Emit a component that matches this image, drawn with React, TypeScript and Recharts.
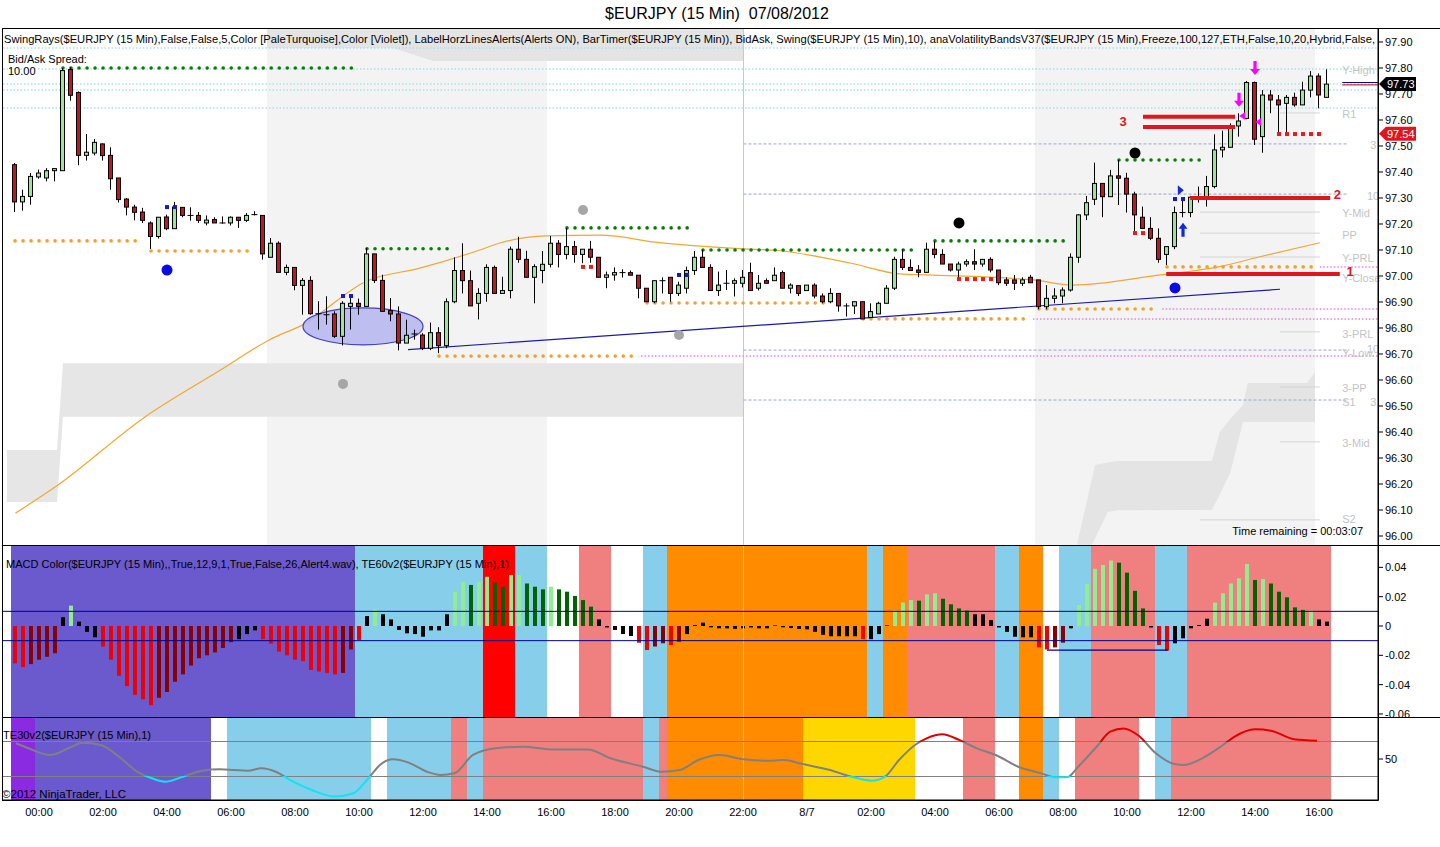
import React from 'react';
import {
  ComposedChart, Bar, Line, Area, XAxis, YAxis,
  ReferenceLine, ReferenceArea, ReferenceDot, Cell,
} from 'recharts';

const FONT = '"Liberation Sans", Arial, Helvetica, sans-serif';

// ---------------- 15-minute candles (bar index 0..164) ----------------
const opens = [
  97.428, 97.285, 97.306, 97.381, 97.377, 97.405, 97.405, 97.794, 97.706, 97.464,
  97.473, 97.508, 97.464, 97.377, 97.296, 97.265, 97.246, 97.204, 97.152, 97.227,
  97.182, 97.264, 97.233, 97.233, 97.204, 97.217, 97.204, 97.204, 97.226, 97.214,
  97.236, 97.233, 97.072, 97.126, 97.014, 97.033, 96.964, 96.983, 96.855, 96.851,
  96.854, 96.768, 96.883, 96.895, 96.883, 97.085, 96.983, 96.867, 96.854, 96.742,
  96.777, 96.773, 96.722, 96.782, 96.732, 96.901, 97.021, 96.982, 96.895, 96.933,
  97.033, 96.933, 96.944, 97.103, 97.064, 96.995, 97.021, 97.045, 97.126, 97.083,
  97.113, 97.083, 97.103, 97.072, 96.995, 97.004, 97.013, 97.013, 97.003, 96.953,
  96.901, 96.982, 96.995, 96.933, 96.953, 97.021, 97.072, 97.033, 96.944, 96.972,
  96.972, 96.972, 97.013, 96.953, 96.982, 96.982, 97.013, 96.953, 96.963, 96.944,
  96.965, 96.923, 96.901, 96.933, 96.885, 96.885, 96.901, 96.840, 96.854, 96.895,
  96.953, 97.064, 97.033, 97.023, 97.014, 97.103, 97.083, 97.046, 97.023, 97.046,
  97.055, 97.046, 97.064, 97.023, 96.985, 96.985, 96.972, 96.995, 96.985, 96.882,
  96.914, 96.923, 96.946, 97.072, 97.235, 97.295, 97.356, 97.305, 97.385, 97.376,
  97.315, 97.226, 97.183, 97.145, 97.083, 97.113, 97.244, 97.244, 97.305, 97.305,
  97.344, 97.485, 97.495, 97.577, 97.606, 97.744, 97.536, 97.696, 97.677, 97.664,
  97.687, 97.658, 97.715, 97.769, 97.687,
];
const highs = [
  97.435, 97.332, 97.396, 97.409, 97.415, 97.415, 97.800, 97.803, 97.710, 97.546,
  97.527, 97.510, 97.495, 97.377, 97.300, 97.274, 97.262, 97.210, 97.226, 97.236,
  97.285, 97.264, 97.264, 97.246, 97.233, 97.226, 97.229, 97.229, 97.226, 97.242,
  97.249, 97.233, 97.146, 97.133, 97.044, 97.033, 96.992, 96.999, 96.903, 96.922,
  96.864, 96.903, 96.915, 96.913, 97.108, 97.085, 97.005, 96.915, 96.883, 96.832,
  96.794, 96.780, 96.821, 96.803, 96.914, 97.072, 97.126, 97.021, 96.953, 97.045,
  97.040, 96.997, 97.113, 97.151, 97.097, 97.045, 97.096, 97.154, 97.138, 97.183,
  97.135, 97.103, 97.135, 97.072, 97.017, 97.033, 97.026, 97.021, 97.003, 96.953,
  96.982, 96.995, 96.995, 96.978, 97.036, 97.096, 97.100, 97.045, 97.017, 97.023,
  96.991, 97.023, 97.051, 97.004, 96.991, 97.033, 97.021, 96.972, 96.965, 96.965,
  96.972, 96.933, 96.953, 96.933, 96.895, 96.901, 96.901, 96.895, 96.901, 96.965,
  97.074, 97.103, 97.064, 97.042, 97.128, 97.132, 97.103, 97.046, 97.055, 97.064,
  97.103, 97.064, 97.072, 97.023, 96.995, 97.004, 96.995, 97.004, 96.985, 96.965,
  96.953, 96.956, 97.087, 97.238, 97.308, 97.436, 97.356, 97.408, 97.446, 97.397,
  97.324, 97.267, 97.226, 97.183, 97.113, 97.267, 97.299, 97.308, 97.344, 97.385,
  97.545, 97.559, 97.587, 97.626, 97.750, 97.748, 97.715, 97.715, 97.696, 97.696,
  97.705, 97.747, 97.788, 97.779, 97.795,
];
const lows = [
  97.246, 97.251, 97.274, 97.374, 97.364, 97.364, 97.405, 97.674, 97.426, 97.444,
  97.464, 97.444, 97.332, 97.283, 97.233, 97.214, 97.204, 97.104, 97.144, 97.176,
  97.182, 97.226, 97.213, 97.204, 97.195, 97.204, 97.201, 97.194, 97.185, 97.208,
  97.233, 97.063, 97.072, 97.014, 97.003, 96.945, 96.851, 96.851, 96.794, 96.813,
  96.762, 96.733, 96.794, 96.851, 96.883, 96.973, 96.864, 96.826, 96.714, 96.742,
  96.755, 96.715, 96.715, 96.703, 96.722, 96.895, 96.933, 96.885, 96.833, 96.901,
  96.933, 96.933, 96.914, 97.051, 96.995, 96.895, 96.972, 97.033, 97.033, 97.064,
  97.051, 97.049, 97.051, 96.995, 96.953, 96.982, 96.994, 97.003, 96.914, 96.901,
  96.895, 96.933, 96.901, 96.923, 96.933, 97.004, 97.033, 96.944, 96.923, 96.946,
  96.921, 96.956, 96.944, 96.944, 96.972, 96.982, 96.953, 96.933, 96.923, 96.944,
  96.914, 96.895, 96.895, 96.863, 96.844, 96.854, 96.835, 96.840, 96.854, 96.895,
  96.946, 97.023, 97.021, 96.995, 97.014, 97.068, 97.046, 97.017, 96.985, 97.036,
  97.023, 97.036, 97.014, 96.965, 96.962, 96.946, 96.962, 96.974, 96.872, 96.872,
  96.895, 96.895, 96.940, 97.051, 97.215, 97.273, 97.226, 97.305, 97.273, 97.244,
  97.171, 97.183, 97.138, 97.051, 97.042, 97.103, 97.226, 97.226, 97.282, 97.267,
  97.337, 97.456, 97.495, 97.536, 97.603, 97.504, 97.474, 97.626, 97.549, 97.549,
  97.651, 97.658, 97.687, 97.645, 97.687,
];
const closes = [
  97.285, 97.306, 97.383, 97.396, 97.405, 97.413, 97.790, 97.695, 97.464, 97.476,
  97.514, 97.463, 97.374, 97.294, 97.265, 97.245, 97.214, 97.152, 97.226, 97.182,
  97.265, 97.233, 97.233, 97.214, 97.215, 97.204, 97.204, 97.226, 97.214, 97.233,
  97.236, 97.085, 97.126, 97.014, 97.033, 96.964, 96.983, 96.855, 96.855, 96.851,
  96.768, 96.895, 96.895, 96.883, 97.085, 96.983, 96.864, 96.854, 96.742, 96.772,
  96.777, 96.722, 96.782, 96.732, 96.901, 97.021, 96.982, 96.885, 96.933, 97.033,
  96.933, 96.944, 97.103, 97.064, 96.995, 97.036, 97.045, 97.126, 97.083, 97.113,
  97.083, 97.103, 97.072, 96.995, 97.004, 97.013, 97.013, 97.003, 96.953, 96.901,
  96.982, 96.982, 96.933, 96.965, 97.021, 97.072, 97.033, 96.944, 96.965, 96.972,
  96.982, 96.995, 96.944, 96.972, 96.972, 97.003, 96.953, 96.965, 96.933, 96.965,
  96.923, 96.901, 96.933, 96.885, 96.885, 96.901, 96.835, 96.863, 96.895, 96.953,
  97.064, 97.033, 97.021, 97.014, 97.103, 97.083, 97.046, 97.023, 97.046, 97.055,
  97.046, 97.064, 97.023, 96.974, 96.972, 96.972, 96.985, 96.974, 96.882, 96.914,
  96.923, 96.946, 97.072, 97.235, 97.282, 97.356, 97.305, 97.385, 97.376, 97.315,
  97.235, 97.183, 97.145, 97.064, 97.113, 97.244, 97.244, 97.303, 97.305, 97.344,
  97.485, 97.495, 97.572, 97.596, 97.744, 97.526, 97.696, 97.677, 97.658, 97.687,
  97.658, 97.715, 97.769, 97.696, 97.738,
];

// ---------------- MACD histogram ----------------
const macdValues = [
  -0.0255, -0.028, -0.026, -0.023, -0.021, -0.0186, 0.006, 0.0139, 0.003, -0.004,
  -0.0077, -0.014, -0.023, -0.034, -0.041, -0.047, -0.050, -0.054, -0.049, -0.045,
  -0.038, -0.033, -0.027, -0.022, -0.020, -0.018, -0.015, -0.011, -0.009, -0.0055,
  -0.003, -0.009, -0.012, -0.0175, -0.020, -0.023, -0.024, -0.030, -0.031, -0.032,
  -0.033, -0.032, -0.016, -0.0095, 0.0068, 0.0116, 0.008, 0.0045, -0.0027, -0.005,
  -0.0055, -0.0073, -0.003, -0.003, 0.008, 0.0234, 0.0302, 0.028, 0.0302, 0.0336,
  0.0296, 0.0268, 0.0348, 0.0348, 0.029, 0.0268, 0.025, 0.0268, 0.025, 0.0234,
  0.0205, 0.0177, 0.0132, 0.0045, -0.001, -0.0027, -0.0055, -0.0068, -0.0114, -0.0164,
  -0.014, -0.0118, -0.013, -0.0107, -0.0055, 0.0007, 0.0023, -0.0009, -0.0016, -0.0016,
  -0.002, -0.0016, -0.001, -0.0016, -0.0016, 0.0004, -0.0009, -0.0014, -0.002, -0.0023,
  -0.004, -0.006, -0.007, -0.007, -0.007, -0.007, -0.009, -0.009, -0.0055, 0.0004,
  0.0105, 0.016, 0.0177, 0.0173, 0.0216, 0.0223, 0.0186, 0.0148, 0.012, 0.0105,
  0.008, 0.008, 0.004, -0.001, -0.004, -0.0073, -0.0077, -0.0077, -0.0146, -0.016,
  -0.0146, -0.0114, -0.0016, 0.0143, 0.0287, 0.039, 0.0416, 0.0446, 0.0432, 0.0364,
  0.024, 0.012, -0.001, -0.013, -0.0168, -0.0118, -0.0084, -0.0016, 0.0007, 0.005,
  0.016, 0.0223, 0.029, 0.0325, 0.0423, 0.0314, 0.032, 0.029, 0.0234, 0.0196,
  0.0127, 0.011, 0.0105, 0.0045, 0.003,
];
// R falling<0, D rising<0, G rising>0, E falling>0, K neutral
const macdColorCodes =
  'RRDDDDKGKK' + 'KRRRRRRRDD' + 'DDDDDDDDKK' + 'KRRRRRRRRR' + 'RDDRKGKKKK' +
  'KKKKKGGEGG' + 'EEGGEEEGEE' + 'EEEKKKKKRR' + 'DDRDKKKKKK' + 'KKKKKKKKKK' +
  'KKKKKKRKKK' + 'GGGEGGEEEE' + 'KKKKKKKKRR' + 'DDKGGGGGEE' + 'EEKRRKKKKK' +
  'GGGGGEGEEE' + 'EEGKK';
const MACD_COLORS: Record<string, string> = {
  R: '#F00000', D: '#8B0000', G: '#90EE90', E: '#006400', K: '#000000',
};

// ---------------- background zones (bar index ranges) ----------------
const te60Zones: [number, number, string][] = [
  [0, 42, '#6A5ACD'], [43, 58, '#87CEEB'], [59, 62, '#FF0000'], [63, 66, '#87CEEB'],
  [71, 74, '#F08080'], [79, 81, '#87CEEB'], [82, 106, '#FF8C00'], [107, 108, '#87CEEB'],
  [109, 111, '#FF8C00'], [112, 122, '#F08080'], [123, 125, '#87CEEB'], [126, 128, '#FF8C00'],
  [131, 134, '#87CEEB'], [135, 142, '#F08080'], [143, 146, '#87CEEB'], [147, 164, '#F08080'],
];
const te30Zones: [number, number, string][] = [
  [0, 2, '#8A2BE2'], [3, 24, '#6A5ACD'], [27, 44, '#87CEEB'], [47, 54, '#87CEEB'],
  [55, 56, '#F08080'], [57, 58, '#87CEEB'], [59, 78, '#F08080'], [79, 80, '#87CEEB'],
  [81, 81, '#F08080'], [82, 98, '#FF8C00'], [99, 112, '#FFD700'], [119, 122, '#F08080'],
  [126, 128, '#FF8C00'], [129, 130, '#87CEEB'], [133, 140, '#F08080'], [143, 144, '#87CEEB'],
  [145, 164, '#F08080'],
];
const sessionStripes: [number, number][] = [[31.5, 66.5], [127.5, 162.5]];

// ---------------- TE30 oscillator (bar index, value) ----------------
const te30Points: [number, number][] = [
  [0.1, 59.0], [1.6, 56.3], [4.4, 52.3], [6.75, 56.3], [8.45, 59.3], [10.75, 58.0],
  [13, 51.3], [15.3, 42.7], [17.1, 39.0], [18.75, 37.0], [20.75, 39.5], [23.4, 43.3],
  [25.6, 44.1], [27.4, 43.7], [29.1, 43.3], [30.8, 44.7], [32.6, 42.7], [34.25, 38.4],
  [37.1, 32.3], [40, 28.5], [42.3, 30.4], [44, 38.0], [45.75, 47.1], [47.2, 49.8],
  [49.2, 47.9], [51.5, 42.7], [53.2, 40.9], [54.9, 41.8], [57.25, 52.3], [60.1, 56.1],
  [63.55, 57.0], [67, 55.5], [71.6, 55.5], [74.45, 50.4], [78.5, 45.6], [80.75, 42.7],
  [83.1, 43.7], [85.4, 49.4], [88.1, 52.3], [91, 49.8], [93.9, 49.0], [96.1, 49.4],
  [98.45, 47.1], [101.9, 43.7], [104.2, 40.3], [107.1, 37.6], [108.75, 39.9], [110.5, 49.4],
  [112.5, 58.0], [113.95, 61.8], [115.95, 64.1], [118, 60.9], [120.25, 56.1], [122.6, 52.3],
  [125.4, 45.6], [128.3, 41.8], [130, 39.5], [131.5, 39.5], [132.9, 45.6], [135.2, 57.0],
  [136.9, 65.6], [138.6, 67.5], [140.35, 63.7], [142.6, 53.3], [144.95, 47.1], [146.1, 46.6],
  [148.4, 50.4], [150.7, 57.0], [152.4, 62.7], [155, 67.0], [157, 66.2], [159.9, 61.3],
  [162.75, 60.5],
];

// ---------------- price-panel overlays ----------------
const maPoints: [number, number][] = [
  [0.06, 96.088], [5.1, 96.19], [16.25, 96.458], [26.1, 96.646], [31.75, 96.754], [36, 96.813],
  [44, 96.981], [50.6, 97.03], [58.1, 97.10], [60.6, 97.127], [66.5, 97.154], [73.1, 97.157],
  [80.6, 97.128], [90.6, 97.105], [95.6, 97.097], [104.4, 97.05], [110.6, 97.008], [114, 97.004],
  [127.25, 96.985], [132.25, 96.965], [143.1, 97.004], [150.6, 97.036], [155.6, 97.074],
  [163.1, 97.128],
];
const volBandTop = [
  { i: 31.5, lo: 97.877, hi: 97.954 }, { i: 47.25, lo: 97.877, hi: 97.954 },
  { i: 52.25, lo: 97.827, hi: 97.954 }, { i: 91.1, lo: 97.827, hi: 97.954 },
];
const volBandLeft = [
  { i: -1, lo: 96.131, hi: 96.331 }, { i: 5.25, lo: 96.131, hi: 96.331 },
  { i: 6.0, lo: 96.459, hi: 96.664 }, { i: 91.1, lo: 96.459, hi: 96.664 },
];
const volBandRight = [
  { i: 132.75, lo: 95.966, hi: 95.966 }, { i: 134.6, lo: 95.966, hi: 96.218 },
  { i: 135, lo: 95.99, hi: 96.273 }, { i: 136.6, lo: 96.092, hi: 96.283 },
  { i: 137.75, lo: 96.099, hi: 96.288 }, { i: 149.6, lo: 96.10, hi: 96.288 },
  { i: 150.6, lo: 96.16, hi: 96.40 }, { i: 151.9, lo: 96.242, hi: 96.45 },
  { i: 153.5, lo: 96.438, hi: 96.504 }, { i: 154.1, lo: 96.438, hi: 96.588 },
  { i: 161.5, lo: 96.438, hi: 96.588 }, { i: 162.5, lo: 96.438, hi: 96.631 },
];
const turquoiseRays = [97.877, 97.796, 97.738, 97.715, 97.646];
const violetRays = [
  { from: 78.25, p: 96.692 }, { from: 127.25, p: 96.835 },
  { from: 143.4, p: 96.873 }, { from: 163.1, p: 97.035 },
];
const blueDashedLevels = [97.508, 97.315, 96.715, 96.523];
const pivotLines = [
  { from: 158.1, p: 97.627 }, { from: 148.1, p: 97.246 }, { from: 148.1, p: 97.165 },
  { from: 148.1, p: 97.073 }, { from: 158.1, p: 96.785 }, { from: 158.1, p: 96.573 },
  { from: 158.1, p: 96.362 }, { from: 148.1, p: 96.062 },
];
const pivotLabels = [
  { t: 'Y-High', i: 165.9, p: 97.793 }, { t: 'R1', i: 165.9, p: 97.623 },
  { t: '3', i: 169.4, p: 97.504 }, { t: '10', i: 169.0, p: 97.308 },
  { t: 'Y-Mid', i: 165.9, p: 97.240 }, { t: 'PP', i: 165.9, p: 97.159 },
  { t: 'Y-PRL', i: 165.9, p: 97.069 }, { t: 'Y-Close', i: 165.9, p: 96.990 },
  { t: '3-PRL', i: 165.9, p: 96.777 }, { t: '10', i: 169.0, p: 96.72 },
  { t: 'Y-Low', i: 165.9, p: 96.704 }, { t: '3-PP', i: 165.9, p: 96.569 },
  { t: 'S1', i: 165.9, p: 96.515 }, { t: '3', i: 169.4, p: 96.515 },
  { t: '3-Mid', i: 165.9, p: 96.358 }, { t: 'S2', i: 165.9, p: 96.063 },
];
const swingHighRays = [
  { from: 6, to: 43, p: 97.80 }, { from: 44, to: 55, p: 97.105 }, { from: 69, to: 85, p: 97.185 },
  { from: 86, to: 113, p: 97.10 }, { from: 115, to: 132, p: 97.135 }, { from: 138, to: 149, p: 97.446 },
];
const swingLowRays = [
  { from: 0, to: 16, p: 97.135 }, { from: 17, to: 30, p: 97.096 }, { from: 53, to: 78, p: 96.692 },
  { from: 79, to: 102, p: 96.896 }, { from: 106, to: 127, p: 96.835 }, { from: 128, to: 143, p: 96.873 },
  { from: 144, to: 163, p: 97.035 },
];
const redSquares: [number, number][] = [
  [71, 97.035], [72, 97.035], [118, 96.988], [119, 96.988], [120, 96.988], [121, 96.988],
  [122, 96.988], [140, 97.165], [141, 97.165], [158, 97.546], [159, 97.546], [160, 97.546],
  [161, 97.546], [162, 97.546], [163, 97.546],
];
const blueSquares: [number, number][] = [
  [19, 97.265], [20, 97.265], [41, 96.923], [42, 96.923], [83, 97.004], [84, 97.004],
  [145, 97.296], [146, 97.296],
];
const blueDots: [number, number][] = [[19, 97.023], [145, 96.954]];
const grayDots: [number, number][] = [[71, 97.254], [83, 96.773], [41, 96.585]];
const blackDots: [number, number][] = [[118, 97.204], [140, 97.473]];
const magentaArrows: [number, number][] = [[155, 97.773], [153, 97.651]];
const magentaTicks: [number, number][] = [[153.4, 97.615], [155.4, 97.592]];
const targetLines = [
  { from: 141, to: 152.5, p: 97.612 }, { from: 141, to: 152.5, p: 97.573 },
  { from: 146.9, to: 164.4, p: 97.30 }, { from: 143.9, to: 165.6, p: 97.008 },
];
const targetLabels = [
  { t: '3', i: 138.5, p: 97.596 }, { t: '2', i: 165.3, p: 97.315 }, { t: '1', i: 166.9, p: 97.019 },
];
const trendLine = [{ x: 49.125, y: 96.717 }, { x: 158.125, y: 96.949 }];
const ellipseCenter = { i: 43.5, p: 96.806 };
const lastPrice = 97.738;
const lastPriceText = '97.73';
const stopPrice = 97.547;
const stopPriceText = '97.54';

// ---------------- axes ----------------
const priceTicks = [96.0, 96.1, 96.2, 96.3, 96.4, 96.5, 96.6, 96.7, 96.8, 96.9,
  97.0, 97.1, 97.2, 97.3, 97.4, 97.5, 97.6, 97.7, 97.8, 97.9];
const macdTicks = [-0.06, -0.04, -0.02, 0, 0.02, 0.04];
const xTickIdx = [3, 11, 19, 27, 35, 43, 51, 59, 67, 75, 83, 91, 99, 107, 115, 123, 131, 139, 147, 155, 163];
const xTickLabels = ['00:00', '02:00', '04:00', '06:00', '08:00', '10:00', '12:00', '14:00', '16:00',
  '18:00', '20:00', '22:00', '8/7', '02:00', '04:00', '06:00', '08:00', '10:00', '12:00', '14:00', '16:00'];
const dayBreakIdx = 91.06;

// ---------------- layout constants ----------------
const W = 1440;
const AXIS_W = 62;
const LEFT = 3;
const X_DOMAIN: [number, number] = [-1.5, 170.375];
const PRICE_DOMAIN: [number, number] = [95.9654, 97.9538];
const MACD_DOMAIN: [number, number] = [-0.06207, 0.05457];
const TE_DOMAIN: [number, number] = [26.57, 73.43];
const PRICE_TOP = 28, PRICE_H = 517;
const MACD_TOP = 546, MACD_H = 171, MACD_PAD = 8;
const TE_TOP = 718, TE_H = 82, XAXIS_H = 28;

const GREEN = '#98E698';
const RED = '#C8141E';
const TARGET_RED = '#E0161E';

const bars = opens.map((o, i) => ({
  i, o, h: highs[i], l: lows[i], c: closes[i], hl: [lows[i], highs[i]],
  macd: macdValues[i], mc: macdColorCodes[i],
}));
const teData = te30Points.map(([i, v]) => ({ i, v }));
const maData = maPoints.map(([i, p]) => ({ i, p }));
const band = (arr: { i: number; lo: number; hi: number }[]) => arr.map((d) => ({ i: d.i, r: [d.lo, d.hi] }));

const HEADER = 'SwingRays($EURJPY (15 Min),False,False,5,Color [PaleTurquoise],Color [Violet]), LabelHorzLinesAlerts(Alerts ON), BarTimer($EURJPY (15 Min)), BidAsk, Swing($EURJPY (15 Min),10), anaVolatilityBandsV37($EURJPY (15 Min),Freeze,100,127,ETH,False,10,20,Hybrid,False,';

function Candle(props: any) {
  const { x, y, width, height, payload } = props;
  if (x == null || y == null || !payload) return null;
  const top = Math.min(y, y + height);
  const hgt = Math.abs(height);
  const { o, h, l, c } = payload;
  const k = h - l > 0 ? hgt / (h - l) : 0;
  const py = (v: number) => top + (h - v) * k;
  const cx = x + width / 2;
  const yo = py(o);
  const yc = py(c);
  const bodyTop = Math.min(yo, yc);
  const bodyH = Math.abs(yo - yc);
  const up = c >= o;
  return (
    <g>
      <line x1={cx} x2={cx} y1={top} y2={top + hgt} stroke="#000" strokeWidth={1} />
      {bodyH < 1 ? (
        <line x1={x - 0.5} x2={x + width + 0.5} y1={bodyTop} y2={bodyTop} stroke="#000" strokeWidth={1} />
      ) : (
        <rect x={x + 0.5} y={bodyTop} width={width - 1} height={bodyH} fill={up ? GREEN : RED} stroke="#000" strokeWidth={1} />
      )}
    </g>
  );
}

function PriceFlag({ cx, cy, fill, text }: { cx: number; cy: number; fill: string; text: string }) {
  return (
    <g>
      <path d={`M${cx + 1},${cy} L${cx + 8},${cy - 7} L${cx + 38},${cy - 7} L${cx + 38},${cy + 7} L${cx + 8},${cy + 7} Z`} fill={fill} />
      <text x={cx + 9} y={cy} dy="0.36em" fontSize={11} fill="#fff" fontFamily={FONT}>{text}</text>
    </g>
  );
}

const tickStyle = { fontSize: 11, fill: '#000', fontFamily: FONT };

export default function App() {
  const span = TE_DOMAIN[1] - TE_DOMAIN[0];
  const hiOff = (TE_DOMAIN[1] - 60) / span;
  const loOff = (TE_DOMAIN[1] - 40) / span;

  return (
    <div style={{ position: 'absolute', left: 0, top: 0, width: W, height: 847, background: '#fff', fontFamily: FONT, overflow: 'hidden' }}>
      {/* ---------- price panel: background layer ---------- */}
      <div style={{ position: 'absolute', left: 0, top: PRICE_TOP }}>
        <ComposedChart width={W} height={PRICE_H} data={bars} margin={{ top: 0, right: AXIS_W, bottom: 0, left: LEFT }}>
          <XAxis type="number" dataKey="i" domain={X_DOMAIN} allowDataOverflow hide />
          <YAxis domain={PRICE_DOMAIN} allowDataOverflow hide />
          {sessionStripes.map(([a, b], k) => (
            <ReferenceArea key={'ss' + k} x1={a} x2={b} fill="#F3F3F3" fillOpacity={1} stroke="none" />
          ))}
          <Area data={band(volBandTop)} dataKey="r" type="linear" stroke="none" fill="#E4E4E4" fillOpacity={1} isAnimationActive={false} activeDot={false} />
          <Area data={band(volBandLeft)} dataKey="r" type="linear" stroke="none" fill="#E6E6E6" fillOpacity={1} isAnimationActive={false} activeDot={false} />
          <Area data={band(volBandRight)} dataKey="r" type="linear" stroke="none" fill="#E4E4E4" fillOpacity={1} isAnimationActive={false} activeDot={false} />
          <ReferenceLine x={dayBreakIdx} stroke="#C4C8D4" strokeWidth={1} />
          {turquoiseRays.map((p, k) => (
            <ReferenceLine key={'tq' + k} y={p} stroke="#A8E4EA" strokeWidth={1.5} strokeDasharray="1.5 2" />
          ))}
          {blueDashedLevels.map((p, k) => (
            <ReferenceLine key={'bd' + k} segment={[{ x: dayBreakIdx, y: p }, { x: 166.6, y: p }]} stroke="#9AA6CC" strokeWidth={1} strokeDasharray="3 2" />
          ))}
          {pivotLines.map((d, k) => (
            <ReferenceLine key={'pv' + k} segment={[{ x: d.from, y: d.p }, { x: 163.1, y: d.p }]} stroke="#D4D4D4" strokeWidth={1} />
          ))}
          {violetRays.map((d, k) => (
            <ReferenceLine key={'vr' + k} segment={[{ x: d.from, y: d.p }, { x: 170.3, y: d.p }]} stroke="#EE82EE" strokeWidth={1.5} strokeDasharray="1.5 2" />
          ))}
          {pivotLabels.map((d, k) => (
            <ReferenceDot key={'pl' + k} x={d.i} y={d.p} r={0}
              shape={(pp: any) => (
                <text x={pp.cx} y={pp.cy} dy="0.35em" fontSize={11} fill="#C4C4C4" fontFamily={FONT}>{d.t}</text>
              )} />
          ))}
          <ReferenceDot x={ellipseCenter.i} y={ellipseCenter.p} r={0}
            shape={(pp: any) => (
              <ellipse cx={pp.cx} cy={pp.cy} rx={60} ry={18.5} fill="#B4B4F0" fillOpacity={0.85} stroke="#4040C0" strokeWidth={1.2} />
            )} />
          <Line data={maData} dataKey="p" type="monotone" stroke="#F0A830" strokeWidth={1.2} dot={false} activeDot={false} isAnimationActive={false} />
          <ReferenceLine segment={trendLine} stroke="#1A1AA8" strokeWidth={1.2} />
          {swingHighRays.map((d, k) => (
            <ReferenceLine key={'sh' + k} segment={[{ x: d.from, y: d.p }, { x: d.to, y: d.p }]} stroke="#0B7A0B" strokeWidth={3.6} strokeDasharray="0.01 8" strokeLinecap="round" />
          ))}
          {swingLowRays.map((d, k) => (
            <ReferenceLine key={'sl' + k} segment={[{ x: d.from, y: d.p }, { x: d.to, y: d.p }]} stroke="#F2A22C" strokeWidth={3.6} strokeDasharray="0.01 8" strokeLinecap="round" />
          ))}
        </ComposedChart>
      </div>

      {/* ---------- price panel: candles & markers ---------- */}
      <div style={{ position: 'absolute', left: 0, top: PRICE_TOP }}>
        <ComposedChart width={W} height={PRICE_H} data={bars} margin={{ top: 0, right: 0, bottom: 0, left: LEFT }}>
          <XAxis type="number" dataKey="i" domain={X_DOMAIN} allowDataOverflow hide />
          <YAxis orientation="right" width={AXIS_W} domain={PRICE_DOMAIN} allowDataOverflow ticks={priceTicks} interval={0}
            tickFormatter={(v: number) => v.toFixed(2)} tick={tickStyle} tickSize={5} tickMargin={2}
            axisLine={{ stroke: '#000' }} tickLine={{ stroke: '#000' }} />
          {targetLines.map((d, k) => (
            <ReferenceLine key={'tl' + k} segment={[{ x: d.from, y: d.p }, { x: d.to, y: d.p }]} stroke={TARGET_RED} strokeWidth={4} />
          ))}
          <ReferenceLine segment={[{ x: 165.9, y: lastPrice + 0.006 }, { x: 170.375, y: lastPrice + 0.006 }]} stroke="#000080" strokeWidth={1} />
          <ReferenceLine segment={[{ x: 165.9, y: lastPrice - 0.003 }, { x: 170.375, y: lastPrice - 0.003 }]} stroke="#C00000" strokeWidth={1} />
          <Bar dataKey="hl" barSize={5} shape={Candle} isAnimationActive={false} />
          {redSquares.map(([i, p], k) => (
            <ReferenceDot key={'rs' + k} x={i} y={p} r={0}
              shape={(pp: any) => <rect x={pp.cx - 2} y={pp.cy - 2} width={4} height={4} fill="#E02020" />} />
          ))}
          {blueSquares.map(([i, p], k) => (
            <ReferenceDot key={'bs' + k} x={i} y={p} r={0}
              shape={(pp: any) => <rect x={pp.cx - 2} y={pp.cy - 2} width={4} height={4} fill="#1818C0" />} />
          ))}
          {blueDots.map(([i, p], k) => (
            <ReferenceDot key={'bdot' + k} x={i} y={p} r={5.5} fill="#0A0AE6" stroke="none" />
          ))}
          {grayDots.map(([i, p], k) => (
            <ReferenceDot key={'gd' + k} x={i} y={p} r={5} fill="#A6A6A6" stroke="none" />
          ))}
          {blackDots.map(([i, p], k) => (
            <ReferenceDot key={'kd' + k} x={i} y={p} r={5.5} fill="#000" stroke="none" />
          ))}
          {magentaArrows.map(([i, p], k) => (
            <ReferenceDot key={'ma' + k} x={i} y={p} r={0}
              shape={(pp: any) => (
                <path d={`M${pp.cx},${pp.cy} L${pp.cx - 5},${pp.cy - 6} L${pp.cx - 1.6},${pp.cy - 6} L${pp.cx - 1.6},${pp.cy - 14} L${pp.cx + 1.6},${pp.cy - 14} L${pp.cx + 1.6},${pp.cy - 6} L${pp.cx + 5},${pp.cy - 6} Z`} fill="#FF00FF" />
              )} />
          ))}
          {magentaTicks.map(([i, p], k) => (
            <ReferenceDot key={'mt' + k} x={i} y={p} r={0}
              shape={(pp: any) => (
                <path d={`M${pp.cx - 3},${pp.cy} L${pp.cx + 3},${pp.cy - 4} L${pp.cx + 3},${pp.cy + 4} Z`} fill="#FF00FF" />
              )} />
          ))}
          <ReferenceDot x={146} y={97.205} r={0}
            shape={(pp: any) => (
              <path d={`M${pp.cx},${pp.cy} L${pp.cx - 4.5},${pp.cy + 6} L${pp.cx - 1.6},${pp.cy + 6} L${pp.cx - 1.6},${pp.cy + 14} L${pp.cx + 1.6},${pp.cy + 14} L${pp.cx + 1.6},${pp.cy + 6} L${pp.cx + 4.5},${pp.cy + 6} Z`} fill="#1028E0" />
            )} />
          <ReferenceDot x={145.6} y={97.33} r={0}
            shape={(pp: any) => (
              <path d={`M${pp.cx - 2},${pp.cy - 5} L${pp.cx + 4},${pp.cy} L${pp.cx - 2},${pp.cy + 5} Z`} fill="#1028E0" />
            )} />
          {targetLabels.map((d, k) => (
            <ReferenceDot key={'tlab' + k} x={d.i} y={d.p} r={0}
              shape={(pp: any) => (
                <text x={pp.cx} y={pp.cy} dy="0.35em" textAnchor="middle" fontSize={13} fontWeight="bold" fill={TARGET_RED} fontFamily={FONT}>{d.t}</text>
              )} />
          ))}
          <ReferenceDot x={170.375} y={lastPrice} r={0}
            shape={(pp: any) => <PriceFlag cx={pp.cx} cy={pp.cy} fill="#000" text={lastPriceText} />} />
          <ReferenceDot x={170.375} y={stopPrice} r={0}
            shape={(pp: any) => <PriceFlag cx={pp.cx} cy={pp.cy} fill="#E0161E" text={stopPriceText} />} />
        </ComposedChart>
      </div>

      {/* ---------- MACD panel ---------- */}
      <div style={{ position: 'absolute', left: 0, top: MACD_TOP }}>
        <ComposedChart width={W} height={MACD_H + MACD_PAD} data={bars} margin={{ top: 0, right: 0, bottom: MACD_PAD, left: LEFT }}>
          <XAxis type="number" dataKey="i" domain={X_DOMAIN} allowDataOverflow hide />
          <YAxis orientation="right" width={AXIS_W} domain={MACD_DOMAIN} allowDataOverflow ticks={macdTicks} interval={0}
            tickFormatter={(v: number) => (v === 0 ? '0' : v.toFixed(2))} tick={tickStyle} tickSize={5} tickMargin={2}
            axisLine={{ stroke: '#000' }} tickLine={{ stroke: '#000' }} />
          {te60Zones.map(([a, b, col], k) => (
            <ReferenceArea key={'mz' + k} x1={a - 0.5} x2={b + 0.5} fill={col} fillOpacity={1} stroke="none" />
          ))}
          <ReferenceLine x={dayBreakIdx} stroke="#C4C8D4" strokeWidth={1} />
          <Bar dataKey="macd" barSize={4} isAnimationActive={false}>
            {bars.map((d, k) => (
              <Cell key={'mc' + k} fill={MACD_COLORS[d.mc] || '#000'} />
            ))}
          </Bar>
          <ReferenceLine y={0.01} stroke="#00008B" strokeWidth={1} />
          <ReferenceLine y={-0.01} stroke="#00008B" strokeWidth={1} />
          <ReferenceLine segment={[{ x: 129, y: -0.0164 }, { x: 144.1, y: -0.0164 }]} stroke="#00008B" strokeWidth={1.2} />
        </ComposedChart>
      </div>

      {/* ---------- TE30 panel + time axis ---------- */}
      <div style={{ position: 'absolute', left: 0, top: TE_TOP }}>
        <ComposedChart width={W} height={TE_H + XAXIS_H} data={teData} margin={{ top: 0, right: 0, bottom: 0, left: LEFT }}>
          <defs>
            <linearGradient id="teGrad" gradientUnits="userSpaceOnUse" x1={0} y1={0} x2={0} y2={TE_H}>
              <stop offset={0} stopColor="#E00000" />
              <stop offset={hiOff} stopColor="#E00000" />
              <stop offset={hiOff} stopColor="#808080" />
              <stop offset={loOff} stopColor="#808080" />
              <stop offset={loOff} stopColor="#10E4F0" />
              <stop offset={1} stopColor="#10E4F0" />
            </linearGradient>
          </defs>
          <XAxis type="number" dataKey="i" domain={X_DOMAIN} allowDataOverflow ticks={xTickIdx} interval={0}
            tickFormatter={(v: number) => xTickLabels[xTickIdx.indexOf(v)] ?? ''} height={XAXIS_H}
            tick={tickStyle} tickLine={false} tickSize={5} tickMargin={3} axisLine={{ stroke: '#000' }} />
          <YAxis orientation="right" width={AXIS_W} domain={TE_DOMAIN} allowDataOverflow ticks={[50]} interval={0}
            tick={tickStyle} tickSize={5} tickMargin={2} axisLine={{ stroke: '#000' }} tickLine={{ stroke: '#000' }} />
          {te30Zones.map(([a, b, col], k) => (
            <ReferenceArea key={'tz' + k} x1={a - 0.5} x2={b + 0.5} fill={col} fillOpacity={1} stroke="none" />
          ))}
          <ReferenceLine x={dayBreakIdx} stroke="#C4C8D4" strokeWidth={1} />
          <ReferenceLine y={60} stroke="#808080" strokeWidth={1} />
          <ReferenceLine y={40} stroke="#808080" strokeWidth={1} />
          <Line dataKey="v" type="monotone" stroke="url(#teGrad)" strokeWidth={2} dot={false} activeDot={false} isAnimationActive={false} />
        </ComposedChart>
      </div>

      {/* ---------- frame & captions ---------- */}
      <svg width={W} height={847} style={{ position: 'absolute', left: 0, top: 0, pointerEvents: 'none' }} fontFamily={FONT}>
        <text x={717} y={19} fontSize={16} textAnchor="middle" fill="#000" style={{ whiteSpace: 'pre' }}>{'$EURJPY (15 Min)  07/08/2012'}</text>
        <line x1={2} y1={28.5} x2={W} y2={28.5} stroke="#000" />
        <line x1={2.5} y1={28} x2={2.5} y2={800.5} stroke="#000" />
        <line x1={2} y1={545.5} x2={W} y2={545.5} stroke="#000" />
        <line x1={2} y1={717.5} x2={W} y2={717.5} stroke="#000" />
        <line x1={2} y1={800.5} x2={1378.5} y2={800.5} stroke="#000" />
        <line x1={1378.5} y1={28} x2={1378.5} y2={800.5} stroke="#000" />
        <text x={4} y={43} fontSize={11.5} fill="#000" textLength={1371} lengthAdjust="spacingAndGlyphs">{HEADER}</text>
        <text x={8} y={63} fontSize={11} fill="#000">Bid/Ask Spread:</text>
        <text x={8} y={75} fontSize={11} fill="#000">10.00</text>
        <text x={1363} y={535} fontSize={11} fill="#000" textAnchor="end">Time remaining = 00:03:07</text>
        <text x={6} y={568} fontSize={11} fill="#000" textLength={503} lengthAdjust="spacingAndGlyphs">MACD Color($EURJPY (15 Min),,True,12,9,1,True,False,26,Alert4.wav), TE60v2($EURJPY (15 Min),1)</text>
        <text x={3} y={739} fontSize={11} fill="#000" textLength={148} lengthAdjust="spacingAndGlyphs">TE30v2($EURJPY (15 Min),1)</text>
        <text x={2} y={798} fontSize={11} fill="#000" textLength={124} lengthAdjust="spacingAndGlyphs">©2012 NinjaTrader, LLC</text>
      </svg>
    </div>
  );
}
